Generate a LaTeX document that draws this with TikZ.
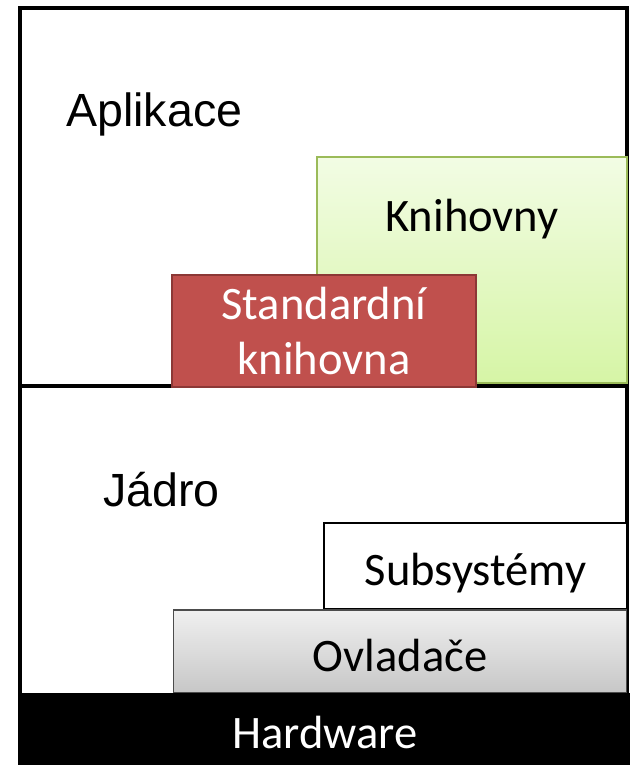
\documentclass[tikz,border=0pt]{standalone}
\usepackage{fontspec}
\setmainfont{Carlito}
\newfontfamily\arialfont{Liberation Sans}
\usetikzlibrary{positioning}
\definecolor{stdred}{HTML}{C0504D}
\definecolor{stdedge}{HTML}{8C3836}
\definecolor{libtop}{HTML}{F2FCE4}
\definecolor{libbot}{HTML}{D6F5A6}
\definecolor{libedge}{HTML}{9BBB59}

\begin{document}
\begin{tikzpicture}[
    x=0.02cm, y=-0.02cm,
    every node/.style={font=\fontsize{26.5}{31.5}\selectfont, inner sep=0pt},
    layer/.style={font=\arialfont\fontsize{26.5}{31}\selectfont, anchor=base west},
    oneline/.style={text height=0.78cm, text depth=0pt},
    lib/.style={rectangle, draw=libedge, line width=0.8pt,
                top color=libtop, bottom color=libbot,
                minimum width=6.2cm, minimum height=4.52cm},
    stdlib/.style={rectangle, draw=stdedge, line width=1.6pt, fill=stdred,
                   text=white, align=center,
                   minimum width=6.08cm, minimum height=2.24cm},
    subsys/.style={rectangle, draw=black, line width=1.6pt, fill=white, oneline,
                   minimum width=6.06cm, minimum height=1.72cm},
    drv/.style={rectangle, draw=black!70, line width=0.6pt, oneline,
                top color=black!6, bottom color=black!22,
                minimum width=9.08cm, minimum height=1.66cm},
    hw/.style={rectangle, fill=black, text=white, oneline,
               minimum width=12.2cm, minimum height=1.44cm}
]
    \useasboundingbox (0,0) rectangle (630,765);

    % outer frame and divider
    \draw[line width=2.2pt] (20,8) rectangle (627,765);
    \draw[line width=2.2pt] (20,386) -- (627,386);

    % user space
    \node[layer] (apl) at (66,126) {Aplikace};
    \node[lib]    (kniha) at (472,270) {};
    \node         (knihtxt) at (472,219) {Knihovny};
    \node[stdlib] (std) at (324,331) {Standardní\\knihovna};

    % kernel space
    \node[layer] (jadro) at (103,506) {Jádro};
    \node[subsys] (sub) at (475.5,566) {Subsystémy};
    \node[drv]    (ovl) at (400,651.5) {Ovladače};
    \node[hw]     (hw)  at (325,729) {Hardware};
\end{tikzpicture}
\end{document}
